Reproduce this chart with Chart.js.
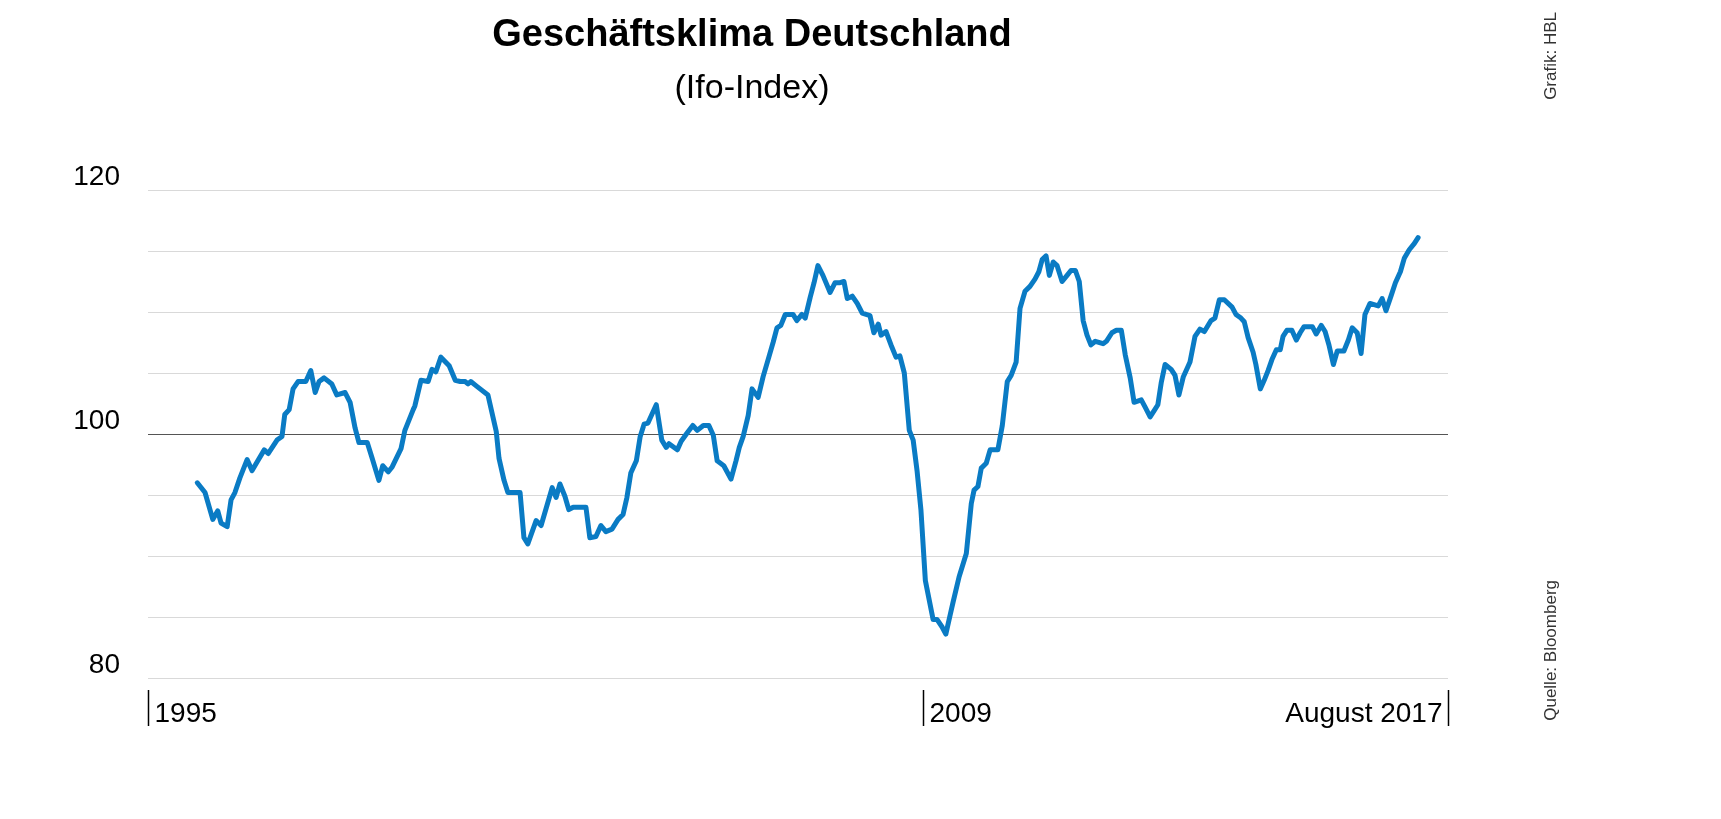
<!DOCTYPE html>
<html>
<head>
<meta charset="utf-8">
<script src="https://cdn.jsdelivr.net/npm/chart.js@4"></script>
<style>
  html, body { margin: 0; padding: 0; background: #fff; }
  #wrap { width: 1721px; height: 819px; }
</style>
</head>
<body>
<div id="wrap"><canvas id="ifoChart" width="1721" height="819"></canvas></div>
<script>
// years since January 1995
const t = [0.89,1.03,1.17,1.26,1.32,1.43,1.50,1.57,1.66,1.79,1.88,1.97,2.10,2.17,2.33,2.42,2.47,2.55,2.62,2.71,2.85,2.94,3.02,3.09,3.18,3.32,3.41,3.56,3.65,3.74,3.81,3.96,4.05,4.17,4.24,4.34,4.41,4.57,4.64,4.79,4.82,4.93,5.06,5.13,5.20,5.29,5.44,5.55,5.64,5.73,5.78,5.83,5.94,6.14,6.29,6.34,6.43,6.50,6.72,6.79,6.86,7.01,7.10,7.30,7.37,7.44,7.53,7.60,7.68,7.91,7.98,8.09,8.18,8.27,8.38,8.49,8.58,8.65,8.72,8.82,8.89,8.96,9.03,9.18,9.28,9.36,9.41,9.56,9.63,9.74,9.84,9.92,10.03,10.13,10.21,10.28,10.40,10.53,10.62,10.68,10.75,10.84,10.91,11.02,11.11,11.22,11.29,11.36,11.43,11.51,11.65,11.72,11.81,11.87,11.96,12.03,12.10,12.19,12.32,12.41,12.50,12.57,12.63,12.72,12.81,12.90,13.04,13.11,13.19,13.24,13.33,13.42,13.51,13.58,13.66,13.75,13.82,13.89,13.96,14.04,14.11,14.18,14.25,14.34,14.41,14.49,14.54,14.65,14.78,14.87,14.92,14.99,15.05,15.14,15.21,15.35,15.43,15.52,15.59,15.68,15.75,15.84,15.93,16.02,16.09,16.15,16.22,16.28,16.35,16.42,16.51,16.60,16.67,16.75,16.82,16.89,16.96,17.03,17.11,17.25,17.31,17.41,17.49,17.58,17.65,17.74,17.81,17.94,18.01,18.10,18.17,18.24,18.30,18.37,18.48,18.55,18.62,18.70,18.79,18.82,18.91,19.00,19.08,19.20,19.27,19.35,19.44,19.58,19.65,19.74,19.80,19.87,19.96,20.01,20.09,20.16,20.23,20.30,20.38,20.45,20.50,20.57,20.66,20.74,20.81,20.88,21.03,21.10,21.19,21.26,21.33,21.41,21.48,21.60,21.68,21.75,21.84,21.91,21.98,22.07,22.22,22.29,22.36,22.45,22.53,22.62,22.69,22.78,22.87,22.94];
const ifo = [96.0,95.2,93.0,93.7,92.7,92.4,94.6,95.2,96.4,97.9,97.0,97.7,98.7,98.4,99.5,99.8,101.6,102.0,103.7,104.3,104.3,105.2,103.4,104.3,104.6,104.1,103.2,103.4,102.6,100.5,99.3,99.3,98.0,96.2,97.4,96.9,97.3,98.8,100.3,102.0,102.3,104.4,104.3,105.3,105.1,106.3,105.6,104.4,104.3,104.3,104.1,104.3,103.9,103.2,100.2,98.0,96.2,95.2,95.2,91.5,91.0,92.9,92.5,95.6,94.8,95.9,94.9,93.8,94.0,94.0,91.5,91.6,92.5,92.0,92.2,93.0,93.4,94.8,96.8,97.8,99.8,100.8,100.9,102.4,99.5,98.9,99.2,98.7,99.4,100.1,100.7,100.3,100.7,100.7,99.9,97.8,97.4,96.3,97.8,98.9,99.8,101.5,103.7,103.0,104.7,106.4,107.5,108.7,108.9,109.8,109.8,109.3,109.8,109.5,111.2,112.4,113.8,113.0,111.6,112.4,112.4,112.5,111.1,111.3,110.7,109.9,109.7,108.3,109.0,108.1,108.4,107.3,106.3,106.4,105.0,100.3,99.5,97.0,93.8,88.0,86.4,84.8,84.8,84.2,83.6,85.2,86.2,88.3,90.2,94.3,95.4,95.7,97.2,97.6,98.7,98.7,100.7,104.3,104.8,105.9,110.3,111.7,112.1,112.7,113.3,114.3,114.6,113.0,114.1,113.8,112.5,113.0,113.4,113.4,112.5,109.3,108.1,107.3,107.6,107.4,107.6,108.3,108.5,108.5,106.5,104.6,102.6,102.8,102.2,101.4,101.9,102.4,104.2,105.7,105.3,104.8,103.2,104.7,105.6,105.9,108.0,108.6,108.4,109.3,109.5,111.0,111.0,110.4,109.8,109.5,109.2,107.9,106.7,105.7,103.7,104.4,105.2,106.1,106.9,106.9,108.0,108.5,108.5,107.7,108.3,108.8,108.8,108.2,108.9,108.4,107.3,105.7,106.8,106.8,107.7,108.7,108.3,106.6,109.8,110.7,110.5,111.1,110.1,111.3,112.4,113.3,114.4,115.1,115.6,116.1];
const yLabels = [80, 100, 120];
const xMarks = [
  { at: 0, label: "1995", align: "left" },
  { at: 14, label: "2009", align: "left" },
  { at: 23.48, label: "August 2017", align: "right" }
];

const points = t.map((x, i) => ({ x, y: ifo[i] }));
const FONT = "Liberation Sans, Arial, sans-serif";

const decor = {
  id: "decor",
  beforeDatasetsDraw(chart) {
    const { ctx, chartArea: a, scales: { x, y } } = chart;
    ctx.save();
    for (let v = 80; v <= 120; v += 5) {
      const py = Math.round(y.getPixelForValue(v)) + 0.5;
      ctx.strokeStyle = v === 100 ? "#555" : "#d9d9d9";
      ctx.lineWidth = 1;
      ctx.beginPath();
      ctx.moveTo(a.left, py);
      ctx.lineTo(a.right, py);
      ctx.stroke();
    }
    ctx.restore();
  },
  afterDraw(chart) {
    const { ctx, scales: { x, y } } = chart;
    ctx.save();
    ctx.fillStyle = "#000";
    ctx.textBaseline = "alphabetic";

    ctx.textAlign = "center";
    ctx.font = "bold 38px " + FONT;
    ctx.fillText("Geschäftsklima Deutschland", 752, 46);
    ctx.font = "34px " + FONT;
    ctx.fillText("(Ifo-Index)", 752, 98);

    ctx.textAlign = "right";
    ctx.font = "28px " + FONT;
    yLabels.forEach(v => {
      ctx.fillText(String(v), 120, y.getPixelForValue(v) - 5);
    });

    ctx.strokeStyle = "#000";
    ctx.lineWidth = 1.5;
    xMarks.forEach(m => {
      const px = Math.round(x.getPixelForValue(m.at)) + 0.5;
      ctx.beginPath();
      ctx.moveTo(px, 690);
      ctx.lineTo(px, 726);
      ctx.stroke();
      ctx.textAlign = m.align;
      ctx.fillText(m.label, m.align === "left" ? px + 6 : px - 6, 722);
    });

    ctx.font = "17px " + FONT;
    ctx.fillStyle = "#333";
    ctx.translate(1556, 0);
    ctx.rotate(-Math.PI / 2);
    ctx.textAlign = "right";
    ctx.fillText("Grafik: HBL", -12, 0);
    ctx.fillText("Quelle: Bloomberg", -580, 0);
    ctx.restore();
  }
};

new Chart(document.getElementById("ifoChart"), {
  type: "line",
  data: {
    datasets: [{
      data: points,
      borderColor: "#0a7bc4",
      borderWidth: 5,
      pointRadius: 0,
      tension: 0,
      borderJoinStyle: "round",
      borderCapStyle: "round"
    }]
  },
  options: {
    responsive: false,
    animation: false,
    layout: { padding: { left: 148, right: 273, top: 190, bottom: 141 } },
    plugins: { legend: { display: false }, tooltip: { enabled: false } },
    scales: {
      x: { type: "linear", min: 0, max: 23.48, display: false },
      y: { min: 80, max: 120, display: false }
    }
  },
  plugins: [decor]
});
</script>
</body>
</html>
